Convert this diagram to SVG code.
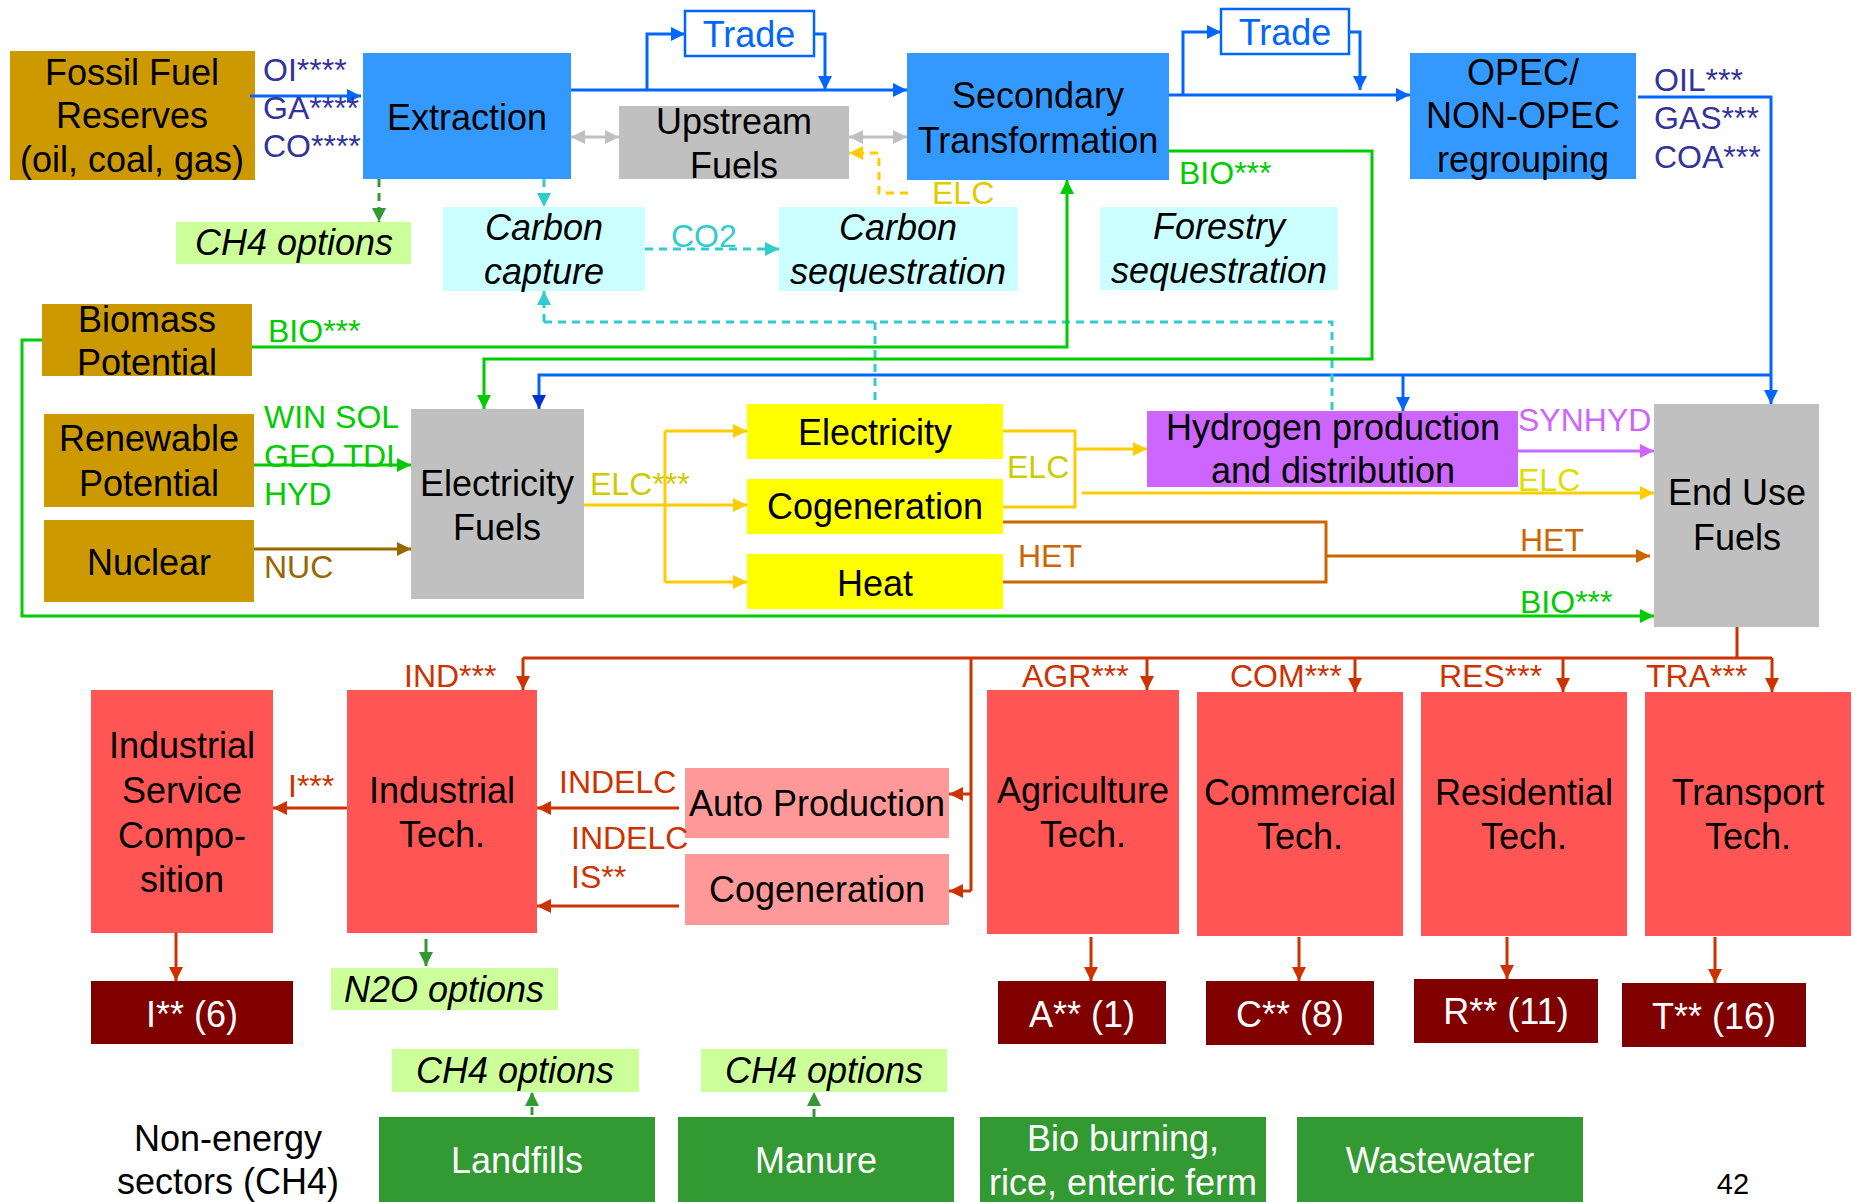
<svg xmlns="http://www.w3.org/2000/svg" width="1858" height="1202" viewBox="0 0 1858 1202">
<defs>
<style>
text{font-family:"Liberation Sans",Arial,sans-serif}
.t{font-size:36px;text-anchor:middle;fill:#000}
.i{font-style:italic}
.w{fill:#fff}
.l{font-size:32px;text-anchor:start}
.c{fill:none;stroke-width:3}
.d{stroke-dasharray:8 6}
.blue{stroke:#0066FF}.gray{stroke:#C0C0C0}.grn{stroke:#00CC00}.dg{stroke:#339933}.cy{stroke:#33CCCC}
.yel{stroke:#FFCC00}.br{stroke:#CC6600}.nb{stroke:#996600}.pu{stroke:#CC66FF}.red{stroke:#CC3300}
.gold{fill:#CC9900}.bbox{fill:#3399FF}.gbox{fill:#C0C0C0}.cbox{fill:#CCFFFF}.lg{fill:#CCFF99}
.ybox{fill:#FFFF00}.rbox{fill:#FF5555}.pbox{fill:#FF9999}.drbox{fill:#800000}.dgbox{fill:#339933}
</style>
<marker id="aBlue" viewBox="0 0 10 10" refX="10" refY="5" markerWidth="14" markerHeight="14" markerUnits="userSpaceOnUse" orient="auto"><path d="M0,0L10,5L0,10z" fill="#0066FF"/></marker>
<marker id="aDBlue" viewBox="0 0 10 10" refX="10" refY="5" markerWidth="14" markerHeight="14" markerUnits="userSpaceOnUse" orient="auto"><path d="M0,0L10,5L0,10z" fill="#0033CC"/></marker>
<marker id="aGray" viewBox="0 0 10 10" refX="10" refY="5" markerWidth="14" markerHeight="14" markerUnits="userSpaceOnUse" orient="auto-start-reverse"><path d="M0,0L10,5L0,10z" fill="#C0C0C0"/></marker>
<marker id="aGrn" viewBox="0 0 10 10" refX="10" refY="5" markerWidth="14" markerHeight="14" markerUnits="userSpaceOnUse" orient="auto"><path d="M0,0L10,5L0,10z" fill="#00CC00"/></marker>
<marker id="aDG" viewBox="0 0 10 10" refX="10" refY="5" markerWidth="14" markerHeight="14" markerUnits="userSpaceOnUse" orient="auto"><path d="M0,0L10,5L0,10z" fill="#339933"/></marker>
<marker id="aCy" viewBox="0 0 10 10" refX="10" refY="5" markerWidth="14" markerHeight="14" markerUnits="userSpaceOnUse" orient="auto"><path d="M0,0L10,5L0,10z" fill="#33CCCC"/></marker>
<marker id="aYel" viewBox="0 0 10 10" refX="10" refY="5" markerWidth="14" markerHeight="14" markerUnits="userSpaceOnUse" orient="auto"><path d="M0,0L10,5L0,10z" fill="#FFCC00"/></marker>
<marker id="aBr" viewBox="0 0 10 10" refX="10" refY="5" markerWidth="14" markerHeight="14" markerUnits="userSpaceOnUse" orient="auto"><path d="M0,0L10,5L0,10z" fill="#CC6600"/></marker>
<marker id="aNb" viewBox="0 0 10 10" refX="10" refY="5" markerWidth="14" markerHeight="14" markerUnits="userSpaceOnUse" orient="auto"><path d="M0,0L10,5L0,10z" fill="#996600"/></marker>
<marker id="aPu" viewBox="0 0 10 10" refX="10" refY="5" markerWidth="14" markerHeight="14" markerUnits="userSpaceOnUse" orient="auto"><path d="M0,0L10,5L0,10z" fill="#CC66FF"/></marker>
<marker id="aRed" viewBox="0 0 10 10" refX="10" refY="5" markerWidth="14" markerHeight="14" markerUnits="userSpaceOnUse" orient="auto"><path d="M0,0L10,5L0,10z" fill="#CC3300"/></marker>
</defs>
<rect width="1858" height="1202" fill="#fff"/>

<g id="fossil"><rect class="gold" x="10" y="51" width="245" height="129"/><text class="t" x="132" y="85">Fossil Fuel</text><text class="t" x="132" y="128">Reserves</text><text class="t" x="132" y="172">(oil, coal, gas)</text></g>
<g id="extraction"><rect class="bbox" x="363" y="53" width="208" height="126"/><text class="t" x="467" y="130">Extraction</text></g>
<g id="upstream"><rect class="gbox" x="619" y="106" width="230" height="73"/><text class="t" x="734" y="134">Upstream</text><text class="t" x="734" y="178">Fuels</text></g>
<g id="trade1"><rect x="685" y="11" width="129" height="45" fill="#fff" stroke="#0066FF" stroke-width="2.5"/><text class="t" x="749" y="47" fill="#0066FF" style="fill:#0066FF">Trade</text></g>
<g id="secondary"><rect class="bbox" x="907" y="53" width="262" height="127"/><text class="t" x="1038" y="108">Secondary</text><text class="t" x="1038" y="153">Transformation</text></g>
<g id="trade2"><rect x="1221" y="9" width="128" height="45" fill="#fff" stroke="#0066FF" stroke-width="2.5"/><text class="t" x="1285" y="45" style="fill:#0066FF">Trade</text></g>
<g id="opec"><rect class="bbox" x="1410" y="53" width="226" height="126"/><text class="t" x="1523" y="85">OPEC/</text><text class="t" x="1523" y="128">NON-OPEC</text><text class="t" x="1523" y="172">regrouping</text></g>
<g id="ch4top"><rect class="lg" x="176" y="222" width="235" height="42"/><text class="t i" x="294" y="255">CH4 options</text></g>
<g id="ccapture"><rect class="cbox" x="443" y="207" width="202" height="84"/><text class="t i" x="544" y="240">Carbon</text><text class="t i" x="544" y="284">capture</text></g>
<g id="cseq"><rect class="cbox" x="779" y="207" width="239" height="84"/><text class="t i" x="898" y="240">Carbon</text><text class="t i" x="898" y="284">sequestration</text></g>
<g id="forestry"><rect class="cbox" x="1100" y="207" width="238" height="83"/><text class="t i" x="1219" y="239">Forestry</text><text class="t i" x="1219" y="283">sequestration</text></g>
<g id="biomass"><rect class="gold" x="42" y="304" width="210" height="72"/><text class="t" x="147" y="332">Biomass</text><text class="t" x="147" y="375">Potential</text></g>
<g id="renewable"><rect class="gold" x="44" y="414" width="210" height="93"/><text class="t" x="149" y="451">Renewable</text><text class="t" x="149" y="496">Potential</text></g>
<g id="nuclear"><rect class="gold" x="44" y="520" width="210" height="82"/><text class="t" x="149" y="575">Nuclear</text></g>
<g id="elecfuels"><rect class="gbox" x="411" y="409" width="173" height="190"/><text class="t" x="497" y="496">Electricity</text><text class="t" x="497" y="540">Fuels</text></g>
<g id="electricity"><rect class="ybox" x="747" y="404" width="256" height="55"/><text class="t" x="875" y="445">Electricity</text></g>
<g id="cogeneration"><rect class="ybox" x="747" y="479" width="256" height="55"/><text class="t" x="875" y="519">Cogeneration</text></g>
<g id="heat"><rect class="ybox" x="747" y="554" width="256" height="55"/><text class="t" x="875" y="596">Heat</text></g>
<g id="hydrogen"><rect x="1147" y="411" width="371" height="76" fill="#CC66FF"/><text class="t" x="1333" y="440">Hydrogen production</text><text class="t" x="1333" y="483">and distribution</text></g>
<g id="enduse"><rect class="gbox" x="1654" y="404" width="165" height="223"/><text class="t" x="1737" y="505">End Use</text><text class="t" x="1737" y="550">Fuels</text></g>
<g id="isc"><rect class="rbox" x="91" y="690" width="182" height="243"/><text class="t" x="182" y="758">Industrial</text><text class="t" x="182" y="803">Service</text><text class="t" x="182" y="848">Compo-</text><text class="t" x="182" y="892">sition</text></g>
<g id="indtech"><rect class="rbox" x="347" y="690" width="190" height="243"/><text class="t" x="442" y="803">Industrial</text><text class="t" x="442" y="847">Tech.</text></g>
<g id="autoprod"><rect class="pbox" x="685" y="768" width="264" height="70"/><text class="t" x="817" y="816">Auto Production</text></g>
<g id="cogen2"><rect class="pbox" x="685" y="854" width="264" height="71"/><text class="t" x="817" y="902">Cogeneration</text></g>
<g id="agri"><rect class="rbox" x="987" y="690" width="192" height="244"/><text class="t" x="1083" y="803">Agriculture</text><text class="t" x="1083" y="847">Tech.</text></g>
<g id="comm"><rect class="rbox" x="1197" y="692" width="206" height="244"/><text class="t" x="1300" y="805">Commercial</text><text class="t" x="1300" y="849">Tech.</text></g>
<g id="res"><rect class="rbox" x="1421" y="692" width="206" height="244"/><text class="t" x="1524" y="805">Residential</text><text class="t" x="1524" y="849">Tech.</text></g>
<g id="trans"><rect class="rbox" x="1645" y="692" width="206" height="244"/><text class="t" x="1748" y="805">Transport</text><text class="t" x="1748" y="849">Tech.</text></g>
<g id="i6"><rect class="drbox" x="91" y="981" width="202" height="63"/><text class="t w" x="192" y="1027">I** (6)</text></g>
<g id="a1"><rect class="drbox" x="998" y="981" width="168" height="63"/><text class="t w" x="1082" y="1027">A** (1)</text></g>
<g id="c8"><rect class="drbox" x="1206" y="981" width="168" height="64"/><text class="t w" x="1290" y="1027">C** (8)</text></g>
<g id="r11"><rect class="drbox" x="1414" y="979" width="184" height="64"/><text class="t w" x="1506" y="1024">R** (11)</text></g>
<g id="t16"><rect class="drbox" x="1622" y="983" width="184" height="64"/><text class="t w" x="1714" y="1029">T** (16)</text></g>
<g id="n2o"><rect class="lg" x="331" y="968" width="227" height="42"/><text class="t i" x="444" y="1002">N2O options</text></g>
<g id="ch4b1"><rect class="lg" x="392" y="1049" width="247" height="43"/><text class="t i" x="515" y="1083">CH4 options</text></g>
<g id="ch4b2"><rect class="lg" x="701" y="1049" width="246" height="43"/><text class="t i" x="824" y="1083">CH4 options</text></g>
<g id="landfills"><rect class="dgbox" x="379" y="1117" width="276" height="85"/><text class="t w" x="517" y="1173">Landfills</text></g>
<g id="manure"><rect class="dgbox" x="678" y="1117" width="276" height="85"/><text class="t w" x="816" y="1173">Manure</text></g>
<g id="bioburning"><rect class="dgbox" x="980" y="1117" width="286" height="85"/><text class="t w" x="1123" y="1151">Bio burning,</text><text class="t w" x="1123" y="1195">rice, enteric ferm</text></g>
<g id="wastewater"><rect class="dgbox" x="1297" y="1117" width="286" height="85"/><text class="t w" x="1440" y="1173">Wastewater</text></g>
<g id="nonenergy"><text class="t" x="228" y="1151">Non-energy</text><text class="t" x="228" y="1194">sectors (CH4)</text></g>
<g id="pagenum"><text class="t" x="1733" y="1194" style="font-size:29px">42</text></g>

<g id="connectors">
<path class="c blue" d="M250,96H361" marker-end="url(#aBlue)"/>
<path class="c blue" d="M571,90H907" marker-end="url(#aBlue)"/>
<path class="c blue" d="M647,90V34H685" marker-end="url(#aBlue)"/>
<path class="c blue" d="M814,34H825V90" marker-end="url(#aBlue)"/>
<path class="c blue" d="M1169,95H1410" marker-end="url(#aBlue)"/>
<path class="c blue" d="M1183,95V32H1221" marker-end="url(#aBlue)"/>
<path class="c blue" d="M1349,32H1360V90" marker-end="url(#aBlue)"/>
<path class="c blue" d="M1638,97H1771V404" marker-end="url(#aBlue)"/>
<path class="c blue" d="M1771,375H539V409" marker-end="url(#aDBlue)"/>
<path class="c blue" d="M1403,375V411" marker-end="url(#aBlue)"/>
<path class="c gray" d="M571,137H619" marker-start="url(#aGray)" marker-end="url(#aGray)"/>
<path class="c gray" d="M849,137H907" marker-start="url(#aGray)" marker-end="url(#aGray)"/>
<path class="c dg d" d="M379,179V222" marker-end="url(#aDG)"/>
<path class="c cy d" d="M544,179V207" marker-end="url(#aCy)"/>
<path class="c cy d" d="M645,249H779" marker-end="url(#aCy)"/>
<path class="c cy d" d="M544,322V291" marker-end="url(#aCy)"/>
<path class="c cy d" d="M544,322H1332V411"/>
<path class="c cy d" d="M875,322V404"/>
<path class="c yel d" d="M908,193H879V153H849" marker-end="url(#aYel)"/>
<path class="c grn" d="M42,340H22V616H1654" marker-end="url(#aGrn)"/>
<path class="c grn" d="M252,347H1067V180" marker-end="url(#aGrn)"/>
<path class="c grn" d="M1169,151H1372V359H484V409" marker-end="url(#aGrn)"/>
<path class="c grn" d="M254,465H411" marker-end="url(#aGrn)"/>
<path class="c nb" d="M254,549H411" marker-end="url(#aNb)"/>
<path class="c yel" d="M584,505H665M665,431V582"/>
<path class="c yel" d="M665,431H747" marker-end="url(#aYel)"/>
<path class="c yel" d="M665,505H747" marker-end="url(#aYel)"/>
<path class="c yel" d="M665,582H747" marker-end="url(#aYel)"/>
<path class="c yel" d="M1003,431H1075V507H1003"/>
<path class="c yel" d="M1075,449H1147" marker-end="url(#aYel)"/>
<path class="c yel" d="M1082,493H1654" marker-end="url(#aYel)"/>
<path class="c br" d="M1003,522H1326V582H1003"/>
<path class="c br" d="M1326,556H1650" marker-end="url(#aBr)"/>
<path class="c pu" d="M1518,451H1654" marker-end="url(#aPu)"/>
<path class="c red" d="M1737,627V658M523,658H1772"/>
<path class="c red" d="M523,658V690" marker-end="url(#aRed)"/>
<path class="c red" d="M1147,658V690" marker-end="url(#aRed)"/>
<path class="c red" d="M1355,658V692" marker-end="url(#aRed)"/>
<path class="c red" d="M1563,658V692" marker-end="url(#aRed)"/>
<path class="c red" d="M1772,658V692" marker-end="url(#aRed)"/>
<path class="c red" d="M971,658V891"/>
<path class="c red" d="M971,794H949" marker-end="url(#aRed)"/>
<path class="c red" d="M971,891H949" marker-end="url(#aRed)"/>
<path class="c red" d="M679,808H537" marker-end="url(#aRed)"/>
<path class="c red" d="M679,906H537" marker-end="url(#aRed)"/>
<path class="c red" d="M347,808H273" marker-end="url(#aRed)"/>
<path class="c red" d="M176,933V981" marker-end="url(#aRed)"/>
<path class="c red" d="M1091,937V981" marker-end="url(#aRed)"/>
<path class="c red" d="M1299,937V981" marker-end="url(#aRed)"/>
<path class="c red" d="M1507,937V979" marker-end="url(#aRed)"/>
<path class="c red" d="M1715,937V983" marker-end="url(#aRed)"/>
<path class="c dg" d="M426,939V966" marker-end="url(#aDG)"/>
<path class="c dg d" d="M532,1115V1092" marker-end="url(#aDG)"/>
<path class="c dg d" d="M814,1117V1092" marker-end="url(#aDG)"/>

<g class="l" style="fill:#333399">
<text class="l" x="263" y="81" fill="#333399">OI****</text>
<text class="l" x="263" y="119" fill="#333399">GA****</text>
<text class="l" x="263" y="157" fill="#333399">CO****</text>
<text class="l" x="1654" y="91" fill="#333399">OIL***</text>
<text class="l" x="1654" y="129" fill="#333399">GAS***</text>
<text class="l" x="1654" y="168" fill="#333399">COA***</text>
</g>
<text class="l" x="671" y="247" fill="#33CCCC">CO2</text>
<text class="l" x="932" y="204" fill="#DDCC00">ELC</text>
<text class="l" x="1179" y="184" fill="#00CC00">BIO***</text>
<text class="l" x="268" y="342" fill="#00CC00">BIO***</text>
<text class="l" x="264" y="428" fill="#00CC00">WIN SOL</text>
<text class="l" x="264" y="467" fill="#00CC00">GEO TDI</text>
<text class="l" x="264" y="505" fill="#00CC00">HYD</text>
<text class="l" x="264" y="578" fill="#996600">NUC</text>
<text class="l" x="590" y="495" fill="#CCCC00">ELC***</text>
<text class="l" x="1007" y="478" fill="#CCCC00">ELC</text>
<text class="l" x="1018" y="567" fill="#CC6600">HET</text>
<text class="l" x="1518" y="431" fill="#CC66FF">SYNHYD</text>
<text class="l" x="1518" y="491" fill="#DDDD00">ELC</text>
<text class="l" x="1520" y="551" fill="#CC6600">HET</text>
<text class="l" x="1520" y="613" fill="#00CC00">BIO***</text>
<text class="l" x="404" y="687" fill="#CC3300">IND***</text>
<text class="l" x="1022" y="687" fill="#CC3300">AGR***</text>
<text class="l" x="1230" y="687" fill="#CC3300">COM***</text>
<text class="l" x="1439" y="687" fill="#CC3300">RES***</text>
<text class="l" x="1646" y="687" fill="#CC3300">TRA***</text>
<text class="l" x="288" y="797" fill="#CC3300">I***</text>
<text class="l" x="559" y="793" fill="#CC3300">INDELC</text>
<text class="l" x="571" y="849" fill="#CC3300">INDELC</text>
<text class="l" x="571" y="888" fill="#CC3300">IS**</text>
</g>
</svg>
